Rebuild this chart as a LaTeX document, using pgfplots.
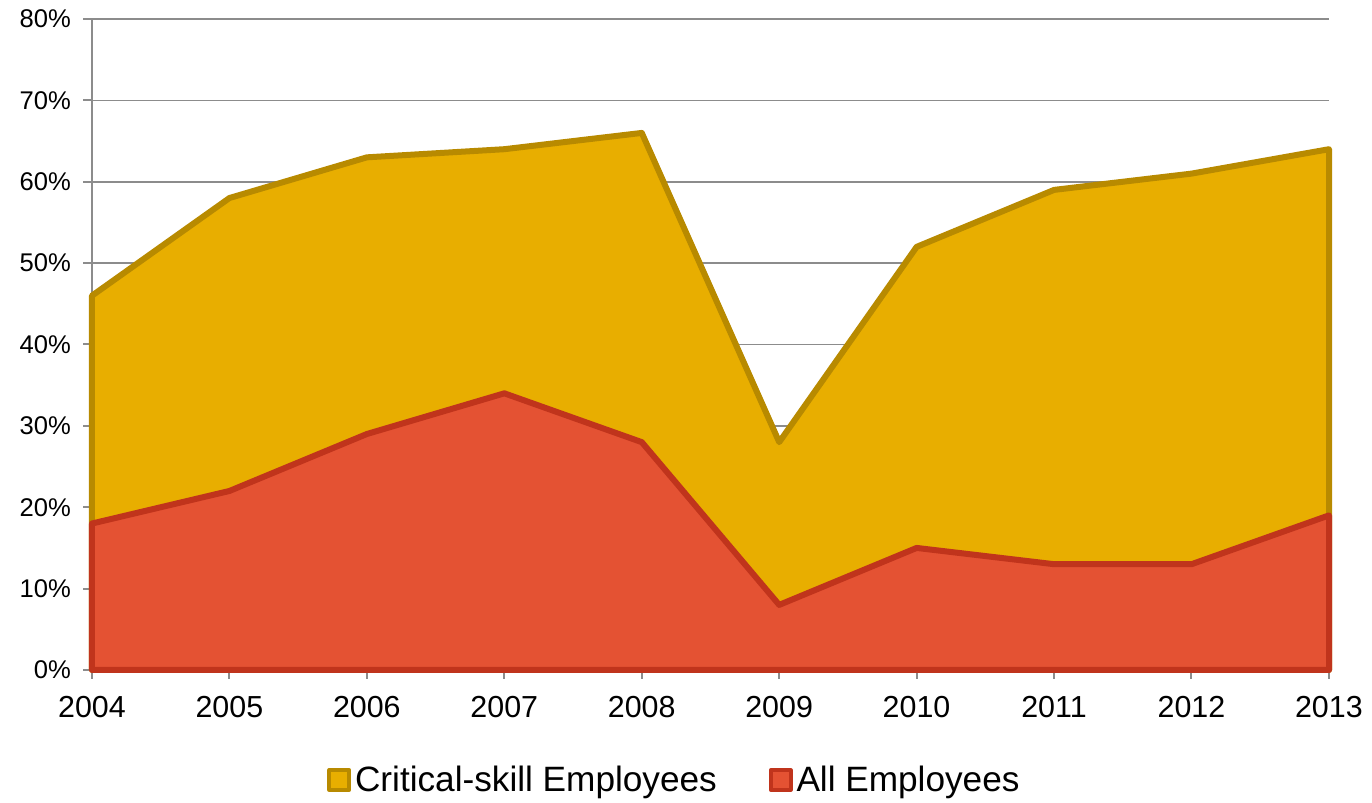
\documentclass[border=0pt]{standalone}
\usepackage{pgfplots}
\pgfplotsset{compat=1.18}
\usepackage{fontspec}
\setmainfont{Liberation Sans}
\definecolor{goldfill}{HTML}{E8AE00}
\definecolor{golddraw}{HTML}{B88A00}
\definecolor{redfill}{HTML}{E45233}
\definecolor{reddraw}{HTML}{C0341C}
\definecolor{axgray}{HTML}{8C8C8C}
\pgfplotsset{boxlegend/.style={legend image code/.code={\draw[##1, line width=1.8pt] (0pt,-5pt) rectangle (10pt,5pt);}}}
\begin{document}
\begin{tikzpicture}
\begin{axis}[
  scale only axis,
  width=618.5pt, height=325.5pt,
  xmin=2004, xmax=2013,
  ymin=0, ymax=80,
  xtick={2004,...,2013},
  ytick={0,10,...,80},
  yticklabel={\pgfmathprintnumber{\tick}\%},
  /pgf/number format/assume math mode=true,
  x tick label style={/pgf/number format/1000 sep={}},
  axis x line=bottom, axis y line=left,
  axis line style={axgray, line width=1pt, -},
  ymajorgrids, grid style={axgray, line width=0.8pt},
  tick style={axgray, line width=1pt},
  tick align=outside, major tick length=4.5pt,
  xticklabel style={font=\fontsize{15.2}{18}\selectfont, yshift=-5pt},
  yticklabel style={font=\fontsize{12.8}{15}\selectfont, xshift=-2.5pt},
  legend style={at={(0.5,-0.169)}, xshift=-17.5pt, anchor=center, draw=none, legend columns=2,
    font=\fontsize{17.6}{20}\selectfont,
    /tikz/every even column/.append style={column sep=24pt}},
  legend cell align=left,
  clip=false,
]
\addplot[fill=goldfill, draw=golddraw, line width=3pt, line join=round, boxlegend]
  coordinates {(2004,46) (2005,58) (2006,63) (2007,64) (2008,66) (2009,28) (2010,52) (2011,59) (2012,61) (2013,64)} \closedcycle;
\addlegendentry{Critical-skill Employees}
\addplot[fill=redfill, draw=reddraw, line width=3pt, line join=round, boxlegend]
  coordinates {(2004,18) (2005,22) (2006,29) (2007,34) (2008,28) (2009,8) (2010,15) (2011,13) (2012,13) (2013,19)} \closedcycle;
\addlegendentry{All Employees}
\coordinate (asw) at (rel axis cs:0,0);
\coordinate (ane) at (rel axis cs:1,1);
\end{axis}
\path ([shift={(-46pt,-65.5pt)}]asw) -- ++(0.01pt,0);
\path ([shift={(21.5pt,9.5pt)}]ane) -- ++(-0.01pt,0);
\end{tikzpicture}
\end{document}
